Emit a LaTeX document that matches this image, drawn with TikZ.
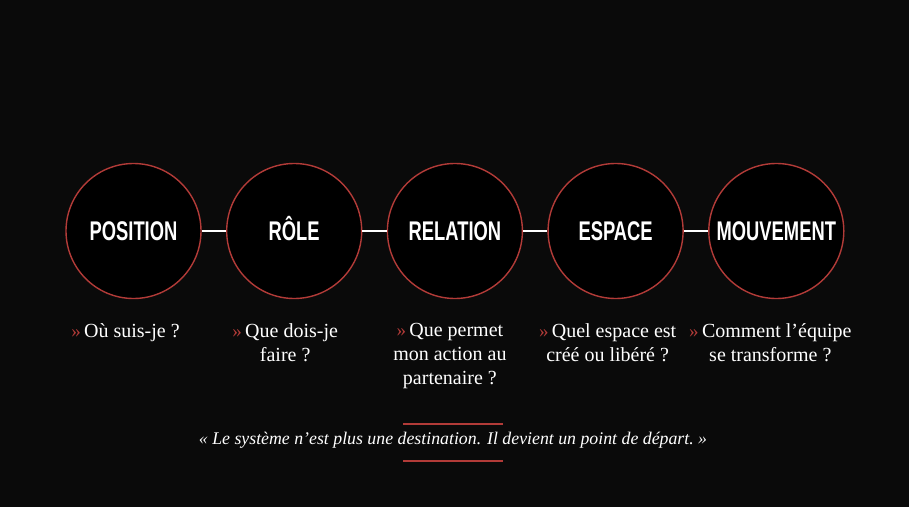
\documentclass[tikz,border=0pt]{standalone}
\usepackage{fontspec}
\setmainfont{Liberation Serif}
\newfontfamily\titlefont[FakeStretch=0.68]{Liberation Sans}
\usetikzlibrary{positioning}
\definecolor{bgblack}{HTML}{0A0A0A}
\definecolor{ringred}{HTML}{B23B38}
\tikzset{
  stage/.style={circle,draw=ringred,line width=1.4pt,fill=black,
    minimum size=135pt,inner sep=0pt,text=white,
    text height=19.5pt,text depth=0pt,
    font=\titlefont\bfseries\fontsize{27}{27}\selectfont},
  question/.style={text=white,align=center,inner sep=0pt,
    font=\fontsize{20}{24}\selectfont},
  link/.style={draw=white,line width=1.2pt},
}
\newcommand{\chev}{{\color{ringred}\fontsize{19}{19}\selectfont »}\,}
\begin{document}
\begin{tikzpicture}[x=1pt,y=1pt,node distance=24.3pt]
\fill[bgblack] (0,0) rectangle (909,507);
% the five stages
\node[stage] (position) at (133.5,276) {POSITION};
\node[stage,right=of position] (role) {RÔLE};
\node[stage,right=of role] (relation) {RELATION};
\node[stage,right=of relation] (espace) {ESPACE};
\node[stage,right=of espace] (mouvement) {MOUVEMENT};
\draw[link] (position) -- (role);
\draw[link] (role) -- (relation);
\draw[link] (relation) -- (espace);
\draw[link] (espace) -- (mouvement);
% questions
\begin{scope}[node distance=24pt]
\node[question,below=of position,xshift=-8pt] (q-position) {\chev Où suis-je ?};
\node[question,below=of role,xshift=-9pt] (q-role) {\chev Que dois-je\\faire ?};
\node[question,below=of relation,xshift=-5pt] (q-relation) {\chev Que permet\\mon action au\\partenaire ?};
\node[question,below=of espace,xshift=-8pt] (q-espace) {\chev Quel espace est\\créé ou libéré ?};
\node[question,below=of mouvement,xshift=-6pt] (q-mouvement) {\chev Comment l’équipe\\se transforme ?};
\end{scope}
% quote
\node[text=white,font=\itshape\fontsize{17.8}{20}\selectfont] (quote) at (453,67)
  {«~Le système n’est plus une destination. Il devient un point de départ.~»};
\draw[ringred,line width=1.2pt]
  ([xshift=-50pt,yshift=16pt]quote.center) -- ++(100pt,0)
  ([xshift=-50pt,yshift=-21pt]quote.center) -- ++(100pt,0);
\end{tikzpicture}
\end{document}
